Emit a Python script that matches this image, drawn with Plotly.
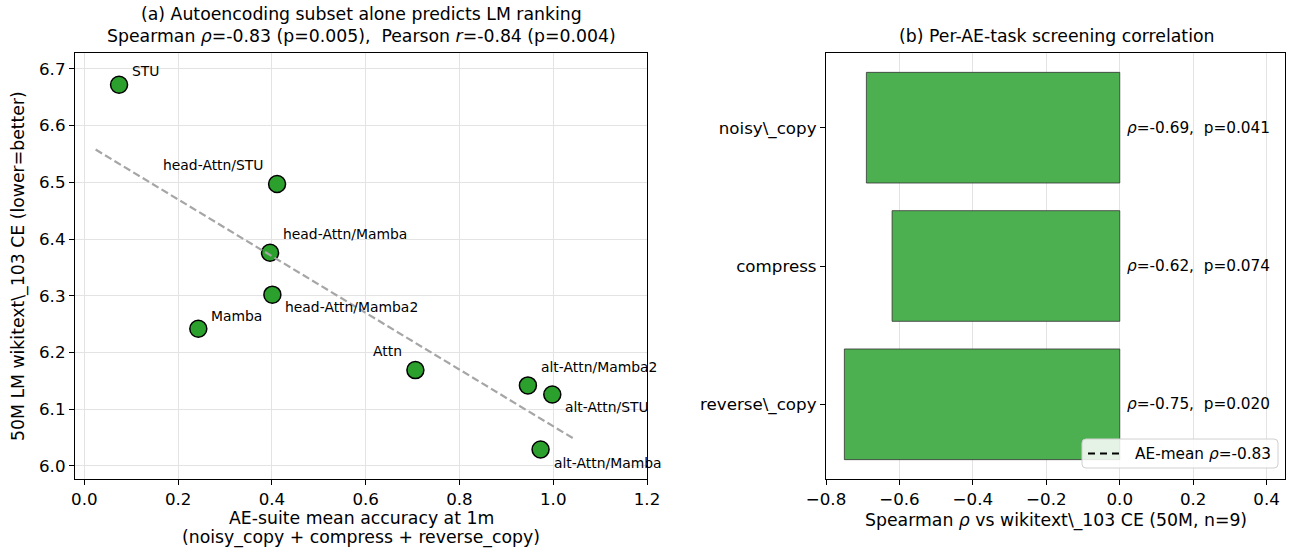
import numpy as np
import plotly.graph_objects as go

# ---- panel (a): AE-suite accuracy vs LM cross-entropy ----
models = ["STU", "head-Attn/STU", "head-Attn/Mamba", "head-Attn/Mamba2", "Mamba",
          "Attn", "alt-Attn/Mamba2", "alt-Attn/STU", "alt-Attn/Mamba"]
ae_acc = [0.074, 0.411, 0.396, 0.401, 0.243, 0.706, 0.946, 0.998, 0.973]
lm_ce = [6.672, 6.497, 6.376, 6.302, 6.242, 6.169, 6.142, 6.126, 6.029]
# label placement: (side, vertical shift in px)
label_side = ["right", "left", "right", "right", "right", "left", "right", "right", "right"]
label_dy = [14, 19, 19, -12, 13, 19, 18, -13, -13]

# ---- panel (b): per-task Spearman correlation ----
tasks = ["reverse\\_copy", "compress", "noisy\\_copy"]
task_rho = [-0.75, -0.62, -0.69]
task_p = ["0.020", "0.074", "0.041"]
ae_mean_rho = -0.83

FONT = "DejaVu Sans"
W, H = 1294, 548
GREEN = "#2ca02c"
BAR_GREEN = "#4caf50"
GRID = "#e3e3e3"
TICK_SIZE = 16.7
LABEL_SIZE = 17.3
TITLE_SIZE = 17.3
POINT_LABEL_SIZE = 13.9
BAR_LABEL_SIZE = 15.3

def px_x(p):
    return p / W

def px_y(p):
    return 1 - p / H

fig = go.Figure()

# scatter of models
fig.add_trace(go.Scatter(
    x=ae_acc, y=lm_ce, mode="markers", xaxis="x", yaxis="y",
    marker=dict(size=17, color=GREEN, line=dict(color="black", width=1.5)),
    showlegend=False, cliponaxis=False,
))

# least-squares trend line
xa = np.array(ae_acc)
ya = np.array(lm_ce)
slope, icpt = np.polyfit(xa, ya, 1)
xl = np.array([xa.min() - 0.05, xa.max() + 0.05])
fig.add_trace(go.Scatter(
    x=xl, y=slope * xl + icpt, mode="lines", xaxis="x", yaxis="y",
    line=dict(color="#a6a6a6", width=2.2, dash="7.5px,3.5px"), showlegend=False,
))

# bars
fig.add_trace(go.Bar(
    x=task_rho, y=tasks, orientation="h", xaxis="x2", yaxis="y2",
    marker=dict(color=BAR_GREEN, line=dict(color="#333333", width=0.8)),
    width=0.8, showlegend=False,
))

# reference line for the AE-mean correlation (falls left of the visible range)
fig.add_trace(go.Scatter(
    x=[ae_mean_rho, ae_mean_rho], y=[-0.6, 2.6], mode="lines", xaxis="x2", yaxis="y2",
    line=dict(color="black", width=1.8, dash="7px,5px"), showlegend=False,
))

annotations = []
for m, x, y, side, dy in zip(models, ae_acc, lm_ce, label_side, label_dy):
    annotations.append(dict(
        x=x, y=y, xref="x", yref="y", text=m, showarrow=False,
        xanchor="left" if side == "right" else "right", yanchor="middle",
        xshift=11 if side == "right" else -11, yshift=dy,
        font=dict(family=FONT, size=POINT_LABEL_SIZE, color="black"),
    ))

for t, r, p in zip(tasks, task_rho, task_p):
    annotations.append(dict(
        x=0.0, y=t, xref="x2", yref="y2",
        text="<i>ρ</i>=" + f"{r:.2f}," + "\u00a0 p=" + p,
        showarrow=False, xanchor="left", yanchor="middle", xshift=5,
        font=dict(family=FONT, size=BAR_LABEL_SIZE, color="black"),
    ))

# titles and axis titles
annotations += [
    dict(x=px_x(361), y=px_y(48), xref="paper", yref="paper", showarrow=False,
         xanchor="center", yanchor="bottom",
         text="(a) Autoencoding subset alone predicts LM ranking<br>"
              "Spearman <i>ρ</i>=-0.83 (p=0.005),\u00a0 Pearson <i>r</i>=-0.84 (p=0.004)",
         font=dict(family=FONT, size=TITLE_SIZE, color="black")),
    dict(x=px_x(1056), y=px_y(48), xref="paper", yref="paper", showarrow=False,
         xanchor="center", yanchor="bottom",
         text="(b) Per-AE-task screening correlation",
         font=dict(family=FONT, size=TITLE_SIZE, color="black")),
    dict(x=px_x(361), y=px_y(518), xref="paper", yref="paper", showarrow=False,
         xanchor="center", yanchor="middle",
         text="AE-suite mean accuracy at 1m",
         font=dict(family=FONT, size=LABEL_SIZE, color="black")),
    dict(x=px_x(361), y=px_y(537), xref="paper", yref="paper", showarrow=False,
         xanchor="center", yanchor="middle",
         text="(noisy_copy + compress + reverse_copy)",
         font=dict(family=FONT, size=LABEL_SIZE, color="black")),
    dict(x=px_x(1056), y=px_y(520), xref="paper", yref="paper", showarrow=False,
         xanchor="center", yanchor="middle",
         text="Spearman <i>ρ</i> vs wikitext\\_103 CE (50M, n=9)",
         font=dict(family=FONT, size=LABEL_SIZE, color="black")),
    dict(x=px_x(18), y=px_y(266), xref="paper", yref="paper", showarrow=False,
         xanchor="center", yanchor="middle", textangle=-90,
         text="50M LM wikitext\\_103 CE (lower=better)",
         font=dict(family=FONT, size=LABEL_SIZE, color="black")),
    # legend entry text
    dict(x=px_x(1133), y=px_y(453.5), xref="paper", yref="paper", showarrow=False,
         xanchor="left", yanchor="middle",
         text="AE-mean <i>ρ</i>=" + f"{ae_mean_rho:.2f}",
         font=dict(family=FONT, size=BAR_LABEL_SIZE, color="black")),
]

# legend frame (rounded) and dashed handle
lx0, lx1, ly0, ly1, rr = px_x(1082), px_x(1278), px_y(468), px_y(439), 4
rx, ry = rr / W, rr / H
legend_path = (
    f"M {lx0 + rx},{ly0} L {lx1 - rx},{ly0} Q {lx1},{ly0} {lx1},{ly0 + ry} "
    f"L {lx1},{ly1 - ry} Q {lx1},{ly1} {lx1 - rx},{ly1} "
    f"L {lx0 + rx},{ly1} Q {lx0},{ly1} {lx0},{ly1 - ry} "
    f"L {lx0},{ly0 + ry} Q {lx0},{ly0} {lx0 + rx},{ly0} Z"
)
shapes = [
    dict(type="path", xref="paper", yref="paper", path=legend_path,
         fillcolor="rgba(255,255,255,0.85)", line=dict(color="#d0d0d0", width=1), layer="above"),
    dict(type="line", xref="paper", yref="paper",
         x0=px_x(1088), x1=px_x(1120), y0=px_y(453.5), y1=px_y(453.5),
         line=dict(color="black", width=2, dash="7px,5px"), layer="above"),
]

axis_common = dict(
    showline=True, linecolor="black", linewidth=1.2, mirror=True,
    ticks="outside", ticklen=5, tickwidth=1.2, tickcolor="black",
    tickfont=dict(family=FONT, size=TICK_SIZE, color="black"),
    zeroline=False, automargin=False,
)

x2_ticks = [-0.8, -0.6, -0.4, -0.2, 0.0, 0.2, 0.4]
x2_text = [f"{v:.1f}".replace("-", "\u2212") for v in x2_ticks]

fig.update_layout(
    width=W, height=H,
    margin=dict(l=0, r=0, t=0, b=0),
    paper_bgcolor="white", plot_bgcolor="white",
    font=dict(family=FONT, color="black"),
    showlegend=False,
    xaxis=dict(domain=[px_x(75), px_x(647)], range=[-0.02, 1.2],
               tickvals=[0.0, 0.2, 0.4, 0.6, 0.8, 1.0, 1.2], tickformat=".1f",
               showgrid=True, gridcolor=GRID, gridwidth=1, anchor="y", **axis_common),
    yaxis=dict(domain=[px_y(479), px_y(53)], range=[5.977, 6.728],
               tickvals=[6.0, 6.1, 6.2, 6.3, 6.4, 6.5, 6.6, 6.7], tickformat=".1f",
               showgrid=True, gridcolor=GRID, gridwidth=1, anchor="x", **axis_common),
    xaxis2=dict(domain=[px_x(826), px_x(1285)], range=[-0.8, 0.45],
                tickvals=x2_ticks, ticktext=x2_text,
                showgrid=True, gridcolor=GRID, gridwidth=1, anchor="y2", **axis_common),
    yaxis2=dict(domain=[px_y(479), px_y(53)], range=[-0.54, 2.54],
                type="category", showgrid=False, anchor="x2", **axis_common),
    annotations=annotations,
    shapes=shapes,
    bargap=0.2,
)

fig.write_html("out.html")
